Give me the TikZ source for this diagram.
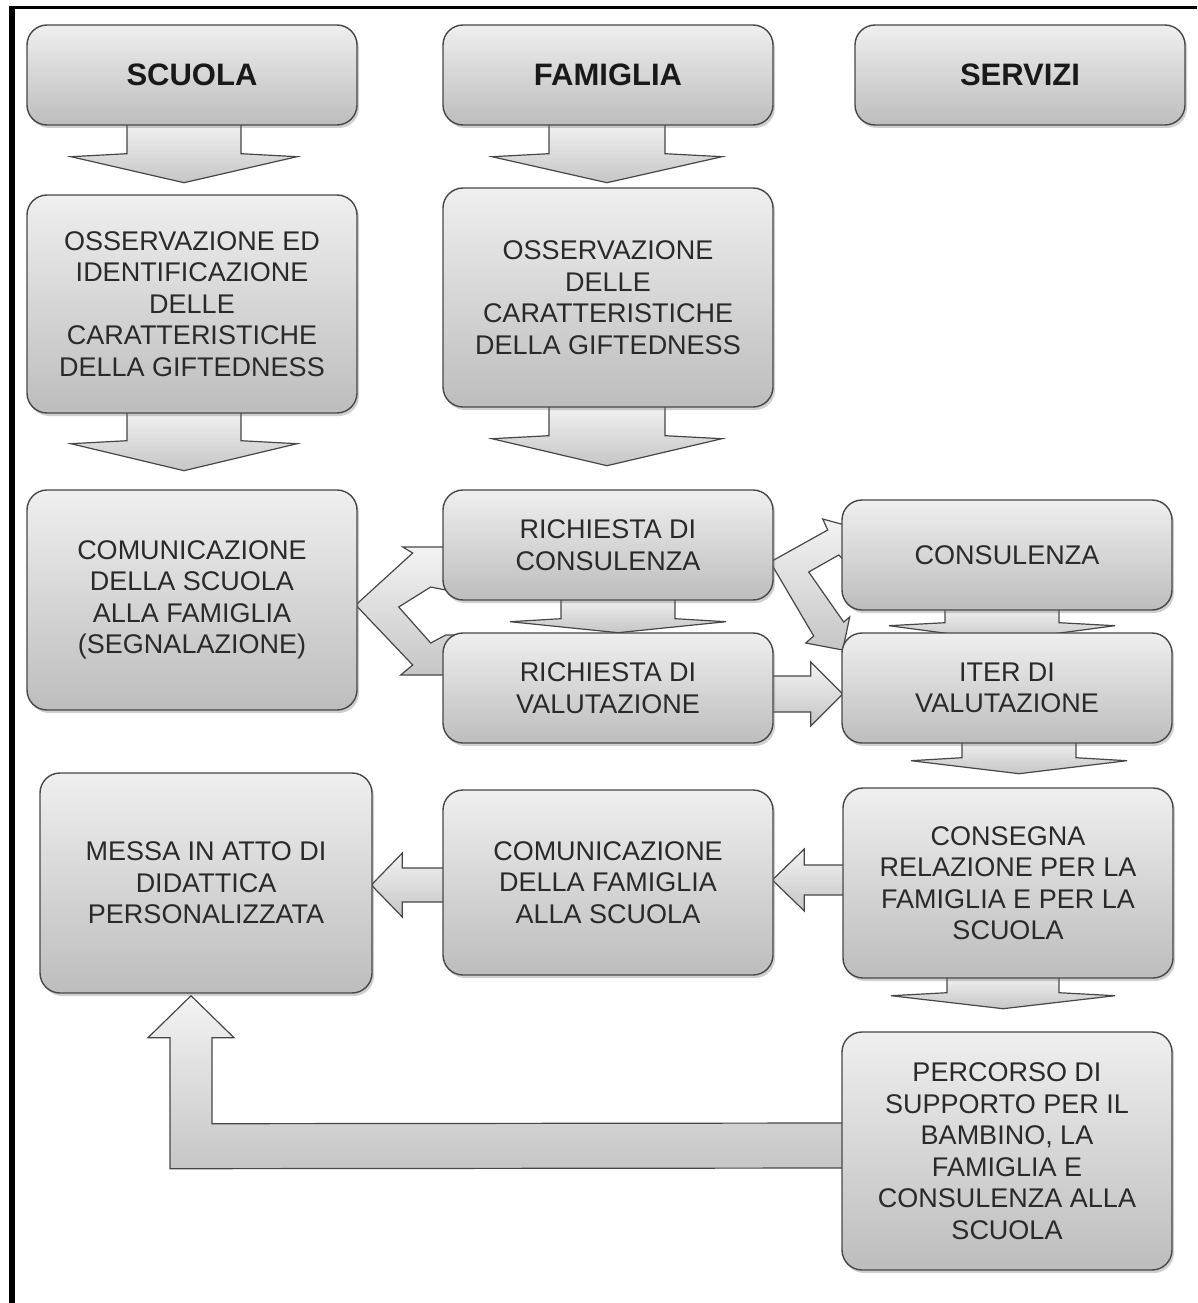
\documentclass[tikz,border=0pt]{standalone}
\usepackage{fontspec}
\setmainfont{Liberation Sans}
\usetikzlibrary{calc,shadows,backgrounds}
\definecolor{boxtop}{HTML}{EFEFEF}
\definecolor{boxbot}{HTML}{BDBDBD}
\definecolor{arrtop}{HTML}{F3F3F3}
\definecolor{arrbot}{HTML}{C6C6C6}
\definecolor{edgec}{HTML}{474747}
\definecolor{txtc}{HTML}{2A2A2A}
\newcommand\dnarr[6]{% node, dx, shaft half, head half, shaft len, head depth
  \coordinate (t) at ($(#1.south)+(#2,0)$);
  \path[blockarrow] ($(t)+(-#3,-4)$) -- ($(t)+(-#3,#5)$) -- ($(t)+(-#4,#5+3)$)
    -- ($(t)+(0,#5+#6)$) -- ($(t)+(#4,#5+3)$) -- ($(t)+(#3,#5)$) -- ($(t)+(#3,-4)$) -- cycle;}
\newcommand\ltarr[6]{% node, dy, shaft half, head half, shaft len, head len
  \coordinate (t) at ($(#1.west)+(0,#2)$);
  \path[blockarrow] ($(t)+(4,-#3)$) -- ($(t)+(-#5,-#3)$) -- ($(t)+(-#5,-#4)$)
    -- ($(t)+(-#5-#6,0)$) -- ($(t)+(-#5,#4)$) -- ($(t)+(-#5,#3)$) -- ($(t)+(4,#3)$) -- cycle;}
\newcommand\rtarr[6]{% node, dy, shaft half, head half, shaft len, head len
  \coordinate (t) at ($(#1.east)+(0,#2)$);
  \path[blockarrow] ($(t)+(-4,-#3)$) -- ($(t)+(#5,-#3)$) -- ($(t)+(#5,-#4)$)
    -- ($(t)+(#5+#6,0)$) -- ($(t)+(#5,#4)$) -- ($(t)+(#5,#3)$) -- ($(t)+(-4,#3)$) -- cycle;}
\begin{document}
\begin{tikzpicture}[x=1pt,y=-1pt,
  box/.style={draw=edgec, line width=1.4pt, rounded corners=20pt,
    top color=boxtop, bottom color=boxbot, minimum width=330pt,
    align=center, text=txtc, font=\fontsize{27}{31.5}\selectfont, inner sep=0pt,
    drop shadow={shadow xshift=2pt, shadow yshift=-3pt, opacity=0.3, fill=black!60}},
  headbox/.style={box, font=\fontsize{31}{34}\selectfont\bfseries, text=black!90},
  blockarrow/.style={draw=edgec, line width=1.2pt, top color=arrtop,
    bottom color=arrbot, line join=miter}]
\useasboundingbox (0,0) rectangle (1197,1303);
% boxes
\node[headbox, minimum height=100pt] (scuola) at (192,75) {SCUOLA};
\node[headbox, minimum height=100pt] (famiglia) at (608,75) {FAMIGLIA};
\node[headbox, minimum height=100pt] (servizi) at (1020,75) {SERVIZI};
\node[box, minimum height=218pt] (oss1) at (192,304) {OSSERVAZIONE ED\\IDENTIFICAZIONE\\DELLE\\CARATTERISTICHE\\DELLA GIFTEDNESS};
\node[box, minimum height=219pt] (oss2) at (608,297.5) {OSSERVAZIONE\\DELLE\\CARATTERISTICHE\\DELLA GIFTEDNESS};
\node[box, minimum height=220pt] (com1) at (192,600) {COMUNICAZIONE\\DELLA SCUOLA\\ALLA FAMIGLIA\\(SEGNALAZIONE)};
\node[box, minimum height=110pt] (rc) at (608,545) {RICHIESTA DI\\CONSULENZA};
\node[box, minimum height=110pt] (rv) at (608,688) {RICHIESTA DI\\VALUTAZIONE};
\node[box, minimum height=110pt] (cons) at (1007,555) {CONSULENZA};
\node[box, minimum height=110pt] (iter) at (1007,688) {ITER DI\\VALUTAZIONE};
\node[box, minimum height=190pt] (consegna) at (1008,883) {CONSEGNA\\RELAZIONE PER LA\\FAMIGLIA E PER LA\\SCUOLA};
\node[box, minimum height=185pt] (comfam) at (608,882.5) {COMUNICAZIONE\\DELLA FAMIGLIA\\ALLA SCUOLA};
\node[box, minimum height=220pt, minimum width=332pt] (messa) at (206,883) {MESSA IN ATTO DI\\DIDATTICA\\PERSONALIZZATA};
\node[box, minimum height=238pt] (percorso) at (1007,1151) {PERCORSO DI\\SUPPORTO PER IL\\BAMBINO, LA\\FAMIGLIA E\\CONSULENZA ALLA\\SCUOLA};
% frame
\draw[line width=3pt] (9,7.5) -- (1197,7.5);
\draw[line width=6pt] (12,6) -- (12,1303);
% arrows
\begin{pgfonlayer}{background}
\fill[white] (0,0) rectangle (1197,1303);
\dnarr{scuola}{-8}{57}{113}{28}{29}
\dnarr{famiglia}{-1}{58}{115}{28}{29}
\dnarr{oss1}{-8}{57}{113}{27}{30}
\dnarr{oss2}{-1}{58}{115}{28}{30}
\dnarr{rc}{10}{57}{108}{18}{14}
\dnarr{cons}{-5}{57}{113}{12}{18}
\dnarr{iter}{12}{57}{108}{14}{16}
\dnarr{consegna}{-5}{56}{112}{14}{16}
\ltarr{consegna}{-3}{15}{31}{38}{32}
\ltarr{comfam}{2.5}{17}{32}{40}{31}
\rtarr{rv}{6}{18}{32}{37}{32}
% left fork
\coordinate (lf) at (com1.east);
\path[blockarrow] ($(lf)+(-2,5)$) -- ($(lf)+(55,-47)$) -- ($(lf)+(45,-53)$)
  -- ($(lf)+(123,-53)$) -- ($(lf)+(123,-10)$) -- ($(lf)+(88,-10)$) -- ($(lf)+(73,-13)$)
  -- ($(lf)+(41,7)$) -- ($(lf)+(73,43)$) -- ($(lf)+(88,35)$) -- ($(lf)+(123,35)$)
  -- ($(lf)+(123,75)$) -- ($(lf)+(43,75)$) -- ($(lf)+(55,65)$) -- cycle;
% right fork
\coordinate (rf) at (rc.east);
\path[blockarrow] ($(rf)+(-3.5,17)$) -- ($(rf)+(54,-15)$) -- ($(rf)+(49,-26)$)
  -- ($(rf)+(82,-17)$) -- ($(rf)+(73,18)$) -- ($(rf)+(65,10)$) -- ($(rf)+(35,27)$)
  -- ($(rf)+(70,77)$) -- ($(rf)+(76,72)$) -- ($(rf)+(69,105)$) -- ($(rf)+(32,98)$)
  -- ($(rf)+(40,91)$) -- cycle;
% L-shaped arrow
\coordinate (lt) at ($(messa.south)+(-15,2)$);
\coordinate (lw) at ($(percorso.west)+(4,0)$);
\path[blockarrow] ($(lw)+(0,-28)$) -- ($(lt)+(21,128)$) -- ($(lt)+(21,42)$)
  -- ($(lt)+(43,42)$) -- (lt) -- ($(lt)+(-43,42)$) -- ($(lt)+(-21,42)$)
  -- ($(lt)+(-21,173)$) -- ($(lw)+(0,17)$) -- cycle;
\end{pgfonlayer}
\end{tikzpicture}
\end{document}
